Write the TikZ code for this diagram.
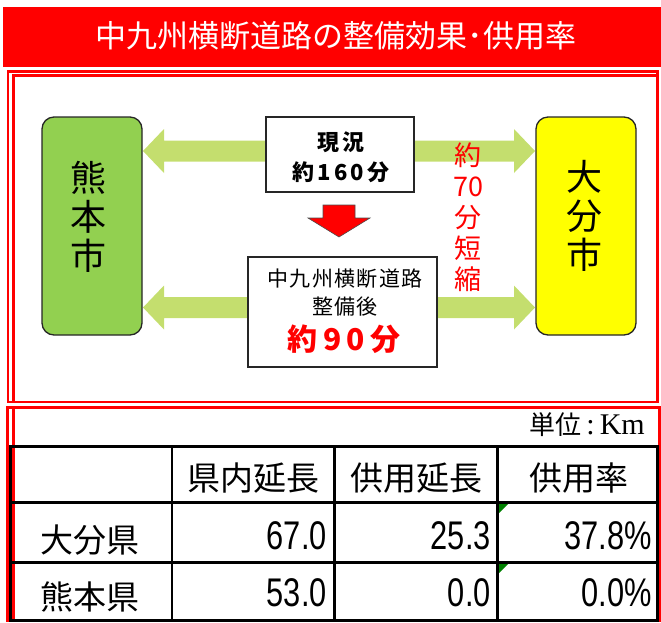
\documentclass[tikz,border=0pt]{standalone}
\usepackage{fontspec}
\newfontfamily\jp{Noto Sans CJK JP}
\newfontfamily\numf[FakeStretch=0.77]{Liberation Sans}
\newfontfamily\serf{Liberation Serif}
\definecolor{kgreen}{RGB}{146,208,80}
\definecolor{agreen}{RGB}{196,222,110}
\definecolor{oyellow}{RGB}{255,255,0}
\definecolor{cgreen}{RGB}{0,128,0}
\newcommand\harrow[4]{% tip x, tail x, center y, direction (+1 right, -1 left)
  \fill[agreen] (#1,#3) -- (#1-#4*21,#3-22) -- (#1-#4*21,#3-10.5) -- (#2,#3-10.5)
    -- (#2,#3+10.5) -- (#1-#4*21,#3+10.5) -- (#1-#4*21,#3+22) -- cycle;}
\tikzset{
  redline/.style={draw=red, line width=2.4pt},
  citybox/.style={draw=black!85, line width=1.3pt, rounded corners=12pt,
    minimum width=100pt, minimum height=218pt, inner sep=0pt},
  citytext/.style={inner sep=0pt, align=center, font=\jp\fontsize{36}{39}\selectfont},
  timebox/.style={draw=black!85, line width=2pt, fill=white, inner sep=0pt},
  jtext/.style={inner sep=0pt, font=\jp},
  numtext/.style={inner sep=0pt, anchor=east, font=\numf\fontsize{40}{40}\selectfont},
  hdrtext/.style={inner sep=0pt, font=\jp\fontsize{33}{33}\selectfont},
  tline/.style={draw=black, line width=2.6pt},
}
\begin{document}
\begin{tikzpicture}[x=1pt,y=-1pt]
\useasboundingbox (0,0) rectangle (661,622);
% title band
\node[fill=red, minimum width=658pt, minimum height=60pt, inner sep=0pt] (band) at (332,37) {};
\node[jtext, text=white, font=\jp\fontsize{31}{31}\selectfont] (title) at (336,36) {中九州横断道路の整備効果･供用率};
% frames
\draw[redline] (8,71.5) rectangle (657.5,402);
\draw[redline] (13.5,402) -- (13.5,75.5) -- (657.5,75.5);
\draw[redline] (7.5,407.5) rectangle (659.5,621);
\draw[redline] (13.5,407.5) -- (13.5,621);
% city boxes
\node[citybox, fill=kgreen] (kum) at (92,226) {};
\node[citytext] (kumt) at (88,217) {熊\\本\\市};
\node[citybox, fill=oyellow] (oita) at (586,226) {};
\node[citytext] (oitat) at (584,216) {大\\分\\市};
% block arrows
\harrow{143}{266}{151}{-1}
\harrow{535}{414}{151}{1}
\harrow{143}{248}{307.5}{-1}
\harrow{535}{437}{307.5}{1}
% current box
\node[timebox, minimum width=148pt, minimum height=75pt] (cur) at (340,154.5) {};
\node[jtext, align=center, font=\jp\bfseries\fontsize{22}{30}\selectfont\addfontfeature{LetterSpace=14}] (curt) at (341,157) {現況\\約160分};
% red down arrow
\filldraw[fill=red, draw=black!70, line width=0.6pt] (323,205) -- (355,205) -- (355,218) -- (370,218)
  -- (339,237) -- (308,218) -- (323,218) -- cycle;
% after box
\node[timebox, minimum width=189pt, minimum height=110pt] (after) at (342.5,312) {};
\node[jtext, font=\jp\fontsize{21}{21}\selectfont\addfontfeature{LetterSpace=6}] (at1) at (345,279) {中九州横断道路};
\node[jtext, font=\jp\fontsize{21}{21}\selectfont\addfontfeature{LetterSpace=6}] (at2) at (345,307) {整備後};
\node[jtext, text=red, font=\jp\bfseries\fontsize{30}{30}\selectfont\addfontfeature{LetterSpace=18}] (at3) at (344,339) {約90分};
% reduction text
\node[jtext, text=red, align=center, font=\jp\fontsize{27}{31}\selectfont] (short) at (468,217.5) {約\\70\\分\\短\\縮};
% unit
\node[inner sep=0pt, anchor=east] (unit) at (645,425) {{\jp\fontsize{26}{26}\selectfont 単位}{\serf\fontsize{30}{30}\selectfont\,:\,Km}};
% table
\fill[cgreen] (499,504) -- (508,504) -- (499,513) -- cycle;
\fill[cgreen] (499,564) -- (508,564) -- (499,573) -- cycle;
\draw[tline] (172,446) -- (172,620);
\draw[tline] (334.5,446) -- (334.5,620);
\draw[tline] (497.5,446) -- (497.5,620);
\draw[tline] (10,502.5) -- (657.5,502.5);
\draw[tline] (10,562.5) -- (657.5,562.5);
\draw[draw=black, line width=3pt] (10.5,446) rectangle (657.5,620);
\node[hdrtext] (h1) at (253,478) {県内延長};
\node[hdrtext] (h2) at (416,478) {供用延長};
\node[hdrtext] (h3) at (579,478) {供用率};
\node[hdrtext] (r1) at (90,540) {大分県};
\node[hdrtext] (r2) at (90,597) {熊本県};
\node[numtext] (v11) at (327,536) {67.0};
\node[numtext] (v12) at (491,536) {25.3};
\node[numtext] (v13) at (652,536) {37.8\%};
\node[numtext] (v21) at (327,593) {53.0};
\node[numtext] (v22) at (491,593) {0.0};
\node[numtext] (v23) at (652,593) {0.0\%};
\end{tikzpicture}
\end{document}
